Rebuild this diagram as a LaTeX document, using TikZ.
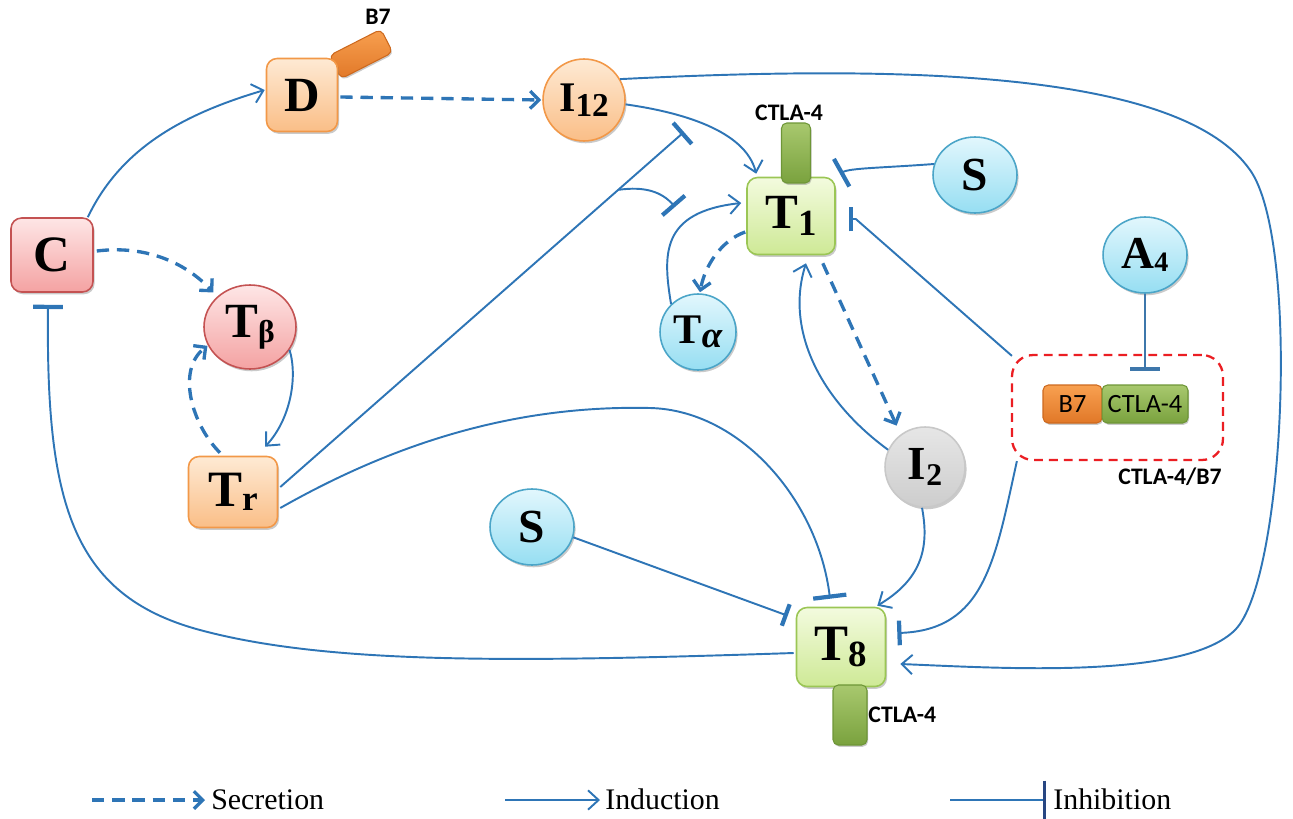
\documentclass[tikz,border=0pt]{standalone}
\usepackage{fontspec}
\setmainfont{Liberation Serif}
\newfontfamily\cfont{Carlito}
\usetikzlibrary{arrows.meta,shadows,calc,shapes.geometric}
\definecolor{lb}{RGB}{46,117,182}
\definecolor{lbd}{RGB}{40,70,130}
\definecolor{pkT}{RGB}{254,230,230}\definecolor{pkB}{RGB}{244,162,162}\definecolor{pkD}{RGB}{196,82,82}
\definecolor{orT}{RGB}{254,234,212}\definecolor{orB}{RGB}{250,190,135}\definecolor{orD}{RGB}{242,152,72}
\definecolor{grT}{RGB}{243,251,222}\definecolor{grB}{RGB}{206,233,150}\definecolor{grD}{RGB}{155,198,85}
\definecolor{blT}{RGB}{226,247,253}\definecolor{blB}{RGB}{150,222,242}\definecolor{blD}{RGB}{75,165,200}
\definecolor{gyT}{RGB}{230,230,230}\definecolor{gyB}{RGB}{205,205,205}\definecolor{gyD}{RGB}{200,200,200}
\definecolor{tgT}{RGB}{168,200,110}\definecolor{tgB}{RGB}{122,162,62}\definecolor{tgD}{RGB}{110,150,55}
\definecolor{toT}{RGB}{248,160,80}\definecolor{toB}{RGB}{225,120,40}\definecolor{toD}{RGB}{205,105,30}
\definecolor{rd}{RGB}{235,30,35}
\newcommand{\nlab}[5]{{\fontsize{#1}{#1}\selectfont\bfseries #3\raisebox{#5}{\fontsize{#2}{#2}\selectfont #4}}}
\newcommand{\blab}[2]{{\fontsize{#1}{#1}\selectfont\bfseries #2}}
\begin{document}
\begin{tikzpicture}[x=0.02cm,y=-0.02cm,
  cell/.style={draw,line width=0.9pt,inner sep=0pt,
    drop shadow={shadow xshift=0.9pt,shadow yshift=-1.3pt,opacity=0.35,fill=black!60}},
  boxn/.style={cell,rectangle,rounded corners=6pt},
  circn/.style={cell,circle},
  elln/.style={cell,ellipse},
  pk/.style={top color=pkT,bottom color=pkB,draw=pkD},
  orn/.style={top color=orT,bottom color=orB,draw=orD},
  grn/.style={top color=grT,bottom color=grB,draw=grD},
  blu/.style={top color=blT,bottom color=blB,draw=blD},
  gry/.style={top color=gyT,bottom color=gyB,draw=gyD},
  tabg/.style={rectangle,rounded corners=3pt,inner sep=0pt,draw=tgD,line width=0.6pt,top color=tgT,bottom color=tgB,
    drop shadow={shadow xshift=0.6pt,shadow yshift=-1pt,opacity=0.35,fill=black!60}},
  tabo/.style={rectangle,rounded corners=3pt,inner sep=0pt,draw=toD,line width=0.6pt,top color=toT,bottom color=toB,
    drop shadow={shadow xshift=0.6pt,shadow yshift=-1pt,opacity=0.35,fill=black!60}},
  lab/.style={font=\cfont\bfseries\fontsize{13.5}{15}\selectfont,inner sep=0pt},
  blk/.style={font=\cfont\fontsize{15}{16}\selectfont,inner sep=0pt},
  legt/.style={font=\fontsize{17}{18}\selectfont,inner sep=0pt},
  ind/.style={draw=lb,line width=1.1pt,-{Straight Barb[length=6pt,width=11pt]}},
  sec/.style={draw=lb,line width=1.9pt,dash pattern=on 7pt off 4.5pt,-{Straight Barb[length=5pt,width=10pt]}},
  inh/.style={draw=lb,line width=1.1pt,-{Bar[width=17pt,line width=2.4pt]}},
]
\useasboundingbox (0,0) rectangle (1293,818);

% nodes
\node[boxn,pk,minimum width=1.64cm,minimum height=1.48cm] (C) at (52,255) {\blab{29}{C}};
\node[tabo,minimum width=1.16cm,minimum height=0.52cm,rotate=27] (B7tab) at (361,54) {};
\node[boxn,orn,minimum width=1.42cm,minimum height=1.46cm] (D) at (302,95) {\blab{28}{D}};
\node[lab] (B7lbl) at (378,17) {B7};
\node[circn,orn,minimum size=1.64cm] (I12) at (584,100) {\nlab{24}{19}{I}{12}{-3pt}};
\node[boxn,grn,minimum width=1.76cm,minimum height=1.54cm] (T1) at (791,216) {\nlab{28}{21}{T}{1}{-4pt}};
\node[tabg,minimum width=0.58cm,minimum height=1.2cm] (T1tab) at (796,153) {};
\node[lab] (CT1) at (789,113) {CTLA-4};
\node[elln,blu,minimum width=1.68cm,minimum height=1.52cm] (S1) at (975,175) {\blab{27}{S}};
\node[elln,blu,minimum width=1.68cm,minimum height=1.52cm] (A4) at (1145,255) {\nlab{26}{16}{A}{4}{-1.5pt}};
\node[elln,pk,minimum width=1.84cm,minimum height=1.68cm] (Tb) at (250,327) {\nlab{28}{18}{T}{β}{-3pt}};
\node[circn,blu,minimum size=1.52cm] (Ta) at (698,332) {\nlab{24}{21}{T}{\itshape α}{-2pt}};
\node[boxn,orn,minimum width=1.78cm,minimum height=1.42cm] (Tr) at (233,492) {\nlab{29}{20}{T}{r}{-2pt}};
\node[circn,gry,minimum size=1.6cm] (I2) at (925,467) {\nlab{27}{18}{I}{2}{-3pt}};
\node[elln,blu,minimum width=1.68cm,minimum height=1.52cm] (S2) at (532,527) {\blab{27}{S}};
\node[boxn,grn,minimum width=1.78cm,minimum height=1.58cm] (T8) at (841,647) {\nlab{29}{21}{T}{8}{-3pt}};
\node[tabg,minimum width=0.68cm,minimum height=1.2cm] (T8tab) at (850,715) {};
\node[lab,anchor=west] (CT8) at (868,715) {CTLA-4};
\node[draw=rd,line width=1.3pt,dash pattern=on 5pt off 3.5pt,rounded corners=12pt,
      minimum width=4.22cm,minimum height=2.1cm,inner sep=0pt] (Box) at (1117.5,407.5) {};
\node[tabo,blk,minimum width=1.18cm,minimum height=0.76cm] (B7b) at (1072.5,404) {B7};
\node[tabg,blk,minimum width=1.72cm,minimum height=0.76cm] (CTb) at (1145,404) {CTLA-4};
\node[lab] (CTB7) at (1170,477) {CTLA-4/B7};

% connectors
\draw[ind] ($(C.north east)+(-6,0)$) .. controls (120,150) and (180,115) .. ($(D.west)+(-1,-5)$);
\draw[sec] ($(C.east)+(3,-4)$) .. controls (145,245) and (185,262) .. ($(Tb.137)+(-4,-4)$);
\draw[inh] ($(T8.west)+(-2,6)$) .. controls (520,662) and (330,665) .. (200,630)
           .. controls (70,595) and (46,500) .. ($(C.south)+(-4,12)$);
\draw[sec] ($(D.east)+(2,2)$) -- ($(I12.west)+(-1,0)$);
\draw[ind] (Tb.-30) .. controls (298,378) and (290,420) .. ($(Tr.north)+(32,-9)$);
\draw[sec] ($(Tr.north)+(-13,-3)$) .. controls (192,425) and (176,370) .. ($(Tb.-150)+(-3,-4)$);
\draw[ind] (I12.-6) .. controls (680,112) and (745,130) .. ($(T1.north west)+(10,-3)$);
\draw[ind] (I12.30) .. controls (900,65) and (1180,70) .. (1250,170)
           .. controls (1300,240) and (1285,580) .. (1235,630)
           .. controls (1185,680) and (1000,668) .. ($(T8.east)+(14,17)$);
\coordinate (trI) at (684,132);
\draw[inh,-{Bar[width=16pt,line width=2.4pt]}] ($(Tr.east)+(2,-5)$) coordinate (trS) -- (trI);
\coordinate (br) at ($(trS)!0.837!(trI)$);
\coordinate (bT) at (675,207);
\draw[inh] (br) .. controls (645,186) and (662,192) .. (bT);
\draw[ind] (Ta.134) .. controls (663,255) and (660,212) .. ($(T1.west)+(-5,-13)$);
\draw[sec] ($(T1.west)+(-1,16)$) .. controls (722,240) and (705,265) .. ($(Ta.north)+(2,-1)$);
\draw[inh,-{Bar[width=18pt,line width=2.4pt]}] (S1.165) .. controls (880,168) and (850,168) .. ($(T1.north east)+(4,-3)$);
\draw[inh,-{Bar[width=14pt,line width=2.4pt]}] ($(Box.north west)+(1,2)$) -- ($(T1.east)+(20,3)$) -- ($(T1.east)+(13,3)$);
\draw[sec] ($(T1.south east)+(-13,8)$) -- ($(I2.125)+(-5,-8)$);
\draw[ind] (I2.155) .. controls (820,400) and (785,330) .. ($(T1.south)+(15,8)$);
\draw[inh,-{Bar[width=19pt,line width=2.4pt]}] ($(Tr.east)+(2,16)$) .. controls (400,440) and (520,405) .. (650,408)
           .. controls (740,410) and (818,500) .. ($(T8.north)+(-11,-8)$);
\draw[inh,-{Bar[width=13pt,line width=2.4pt]}] (S2.-14) -- ($(T8.north west)+(-8,9)$);
\draw[ind] ($(I2.south)+(-3,0)$) .. controls (930,550) and (920,580) .. ($(T8.north east)+(-9,-1)$);
\draw[inh,-{Bar[width=14pt,line width=2.4pt]}] ($(Box.south west)+(6,0)$) .. controls (995,560) and (985,630) .. ($(T8.east)+(11,-14)$);
\draw[inh,draw=lb!80!gray] (A4.south) -- ($(CTb.north)+(0,-13)$);

% legend
\coordinate (l1a) at (92,800); \coordinate (l1b) at (205,800);
\draw[sec] (l1a) -- (l1b);
\node[legt,anchor=base west] (l1t) at (211,809) {Secretion};
\coordinate (l2a) at (505,800); \coordinate (l2b) at (600,800);
\draw[ind] (l2a) -- (l2b);
\node[legt,anchor=base west] (l2t) at (605,809) {Induction};
\coordinate (l3a) at (950,800); \coordinate (l3b) at (1046,800);
\draw[draw=lb,line width=1.4pt,-{Bar[width=22pt,line width=1.5pt,color=lbd]}] (l3a) -- (l3b);
\node[legt,anchor=base west] (l3t) at (1053,809) {Inhibition};
\end{tikzpicture}
\end{document}
